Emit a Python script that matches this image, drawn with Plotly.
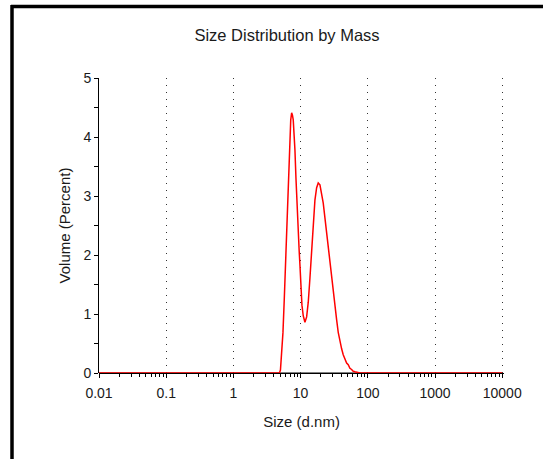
import plotly.graph_objects as go

# Particle size (d.nm) and volume (%) of the mass-weighted distribution
size_nm = [
    0.01, 4.845, 5.013, 5.224, 5.461, 5.710, 5.950, 6.200, 6.372, 6.549,
    6.754, 6.941, 7.133, 7.357, 7.561, 7.771, 8.015, 8.238, 8.525, 8.822,
    9.224, 9.513, 9.777, 10.05, 10.47, 10.95, 11.60, 12.30, 13.00, 13.77,
    14.60, 15.42, 16.34, 17.32, 18.30, 19.40, 20.56, 21.72, 23.02, 24.40,
    25.78, 27.33, 28.95, 30.59, 32.43, 34.38, 36.31, 38.48, 40.79, 43.09,
    45.67, 48.41, 51.14, 54.20, 57.45, 60.69, 64.33, 68.88, 76.33, 10000,
]
volume_pct = [
    0.00, 0.00, 0.05, 0.31, 0.68, 1.24, 1.83, 2.46, 2.93, 3.31,
    3.69, 3.98, 4.29, 4.41, 4.37, 4.29, 4.07, 3.78, 3.31, 2.85,
    2.42, 2.08, 1.83, 1.44, 1.15, 0.97, 0.86, 0.95, 1.20, 1.61,
    2.05, 2.51, 2.93, 3.14, 3.22, 3.19, 3.05, 2.88, 2.63, 2.37,
    2.14, 1.83, 1.56, 1.36, 1.12, 0.90, 0.69, 0.53, 0.41, 0.31,
    0.24, 0.17, 0.14, 0.08, 0.06, 0.03, 0.02, 0.01, 0.00, 0.00,
]

x_ticks = [0.01, 0.1, 1, 10, 100, 1000, 10000]
x_tick_labels = ["0.01", "0.1", "1", "10", "100", "1000", "10000"]
y_ticks = [0, 1, 2, 3, 4, 5]

W, H = 543, 459
FONT = "Liberation Sans, Arial, sans-serif"
TXT = "#1a1a1a"

# minor ticks at 2..9 within each decade
x_minor = [m * 10 ** e for e in range(-2, 4) for m in range(2, 10)]

fig = go.Figure()
fig.add_trace(go.Scatter(
    x=size_nm, y=volume_pct, mode="lines",
    line=dict(color="#ff0000", width=1.5),
    hoverinfo="x+y", showlegend=False,
))

# plot area in pixels; the log range runs a hair past 10^4 so the
# last dotted gridline is still drawn
px_per_decade = 67.2
x_hi = 4.03
left_px = 99
right_px = left_px + px_per_decade * (x_hi + 2)
top_px, bottom_px = 78, 373

fig.update_layout(
    width=W, height=H,
    margin=dict(l=0, r=0, t=0, b=0, autoexpand=False),
    paper_bgcolor="white", plot_bgcolor="white",
    font=dict(family=FONT, color=TXT, size=14),
    title=dict(text="Size Distribution by Mass", x=287 / W, xanchor="center",
               y=1 - 35 / H, yanchor="middle",
               font=dict(family=FONT, size=16.5, color=TXT)),
    xaxis=dict(
        type="log", range=[-2, x_hi], automargin=False,
        domain=[left_px / W, right_px / W],
        tickvals=x_ticks, ticktext=x_tick_labels,
        ticks="outside", ticklen=4, tickcolor="black", tickwidth=1,
        ticklabelstandoff=3,
        showline=False,
        showgrid=True, gridcolor="#333333", gridwidth=1, griddash="1px,6px",
        zeroline=False,
        minor=dict(tickvals=x_minor, ticks="outside", ticklen=3,
                   tickcolor="black", showgrid=False),
        tickfont=dict(size=14, color=TXT),
        title=dict(text="Size (d.nm)", font=dict(size=15, color=TXT), standoff=16),
    ),
    yaxis=dict(
        range=[0, 5], automargin=False,
        domain=[1 - bottom_px / H, 1 - top_px / H],
        tickvals=y_ticks,
        ticks="outside", ticklen=4, tickcolor="black", tickwidth=1,
        showline=True, linecolor="black", linewidth=1,
        showgrid=False, zeroline=True, zerolinecolor="black", zerolinewidth=1,
        minor=dict(dtick=0.5, ticks="outside", ticklen=4, tickcolor="black",
                   showgrid=False),
        tickfont=dict(size=14, color=TXT),
        title=dict(text="Volume (Percent)", font=dict(size=15, color=TXT), standoff=9),
    ),
    shapes=[
        # x axis baseline from 0.01 to 10000
        dict(type="line", xref="x", yref="y", x0=0.01, x1=10000, y0=0, y1=0,
             line=dict(color="black", width=1), layer="below"),
        # window frame: top and left edges
        dict(type="line", xref="paper", yref="paper",
             x0=11 / W, x1=1.0, y0=1 - 6.5 / H, y1=1 - 6.5 / H,
             line=dict(color="black", width=3.5)),
        dict(type="line", xref="paper", yref="paper",
             x0=12 / W, x1=12 / W, y0=0, y1=1 - 5 / H,
             line=dict(color="black", width=3.5)),
    ],
)

fig.write_html("out.html", config={"displayModeBar": False})
